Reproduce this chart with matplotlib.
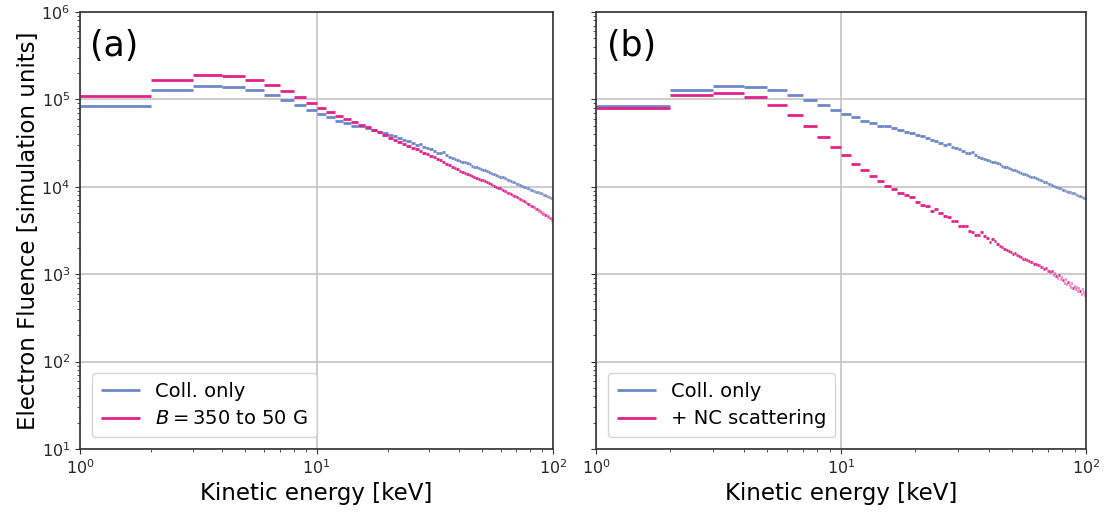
import numpy as np
import matplotlib
matplotlib.use("Agg")
import matplotlib.pyplot as plt

# energy bins, 1 keV wide, 1..100 keV
edges = np.arange(1, 101)

coll_only = [
    85000, 127000, 142000, 139000, 127000, 111000, 97600, 86300, 76300, 67500,
    62500, 56800, 53500, 50200, 49000, 46500, 45000, 42000, 40800, 38700,
    38000, 35700, 34200, 33000, 31300, 30300, 30800, 28700, 27700, 27000,
    25800, 24500, 24500, 24700, 23400, 22100, 21300, 20800, 20000, 19700,
    19400, 19000, 18700, 18000, 17300, 16900, 16700, 16200, 15900, 15600,
    15400, 15000, 14700, 14500, 14100, 13900, 13600, 13400, 13100, 12900,
    12800, 12500, 12200, 12000, 11900, 11600, 11400, 11200, 11100, 10900,
    10700, 10600, 10300, 10300, 10000, 9900, 9700, 9600, 9500, 9300,
    9300, 9000, 9000, 8800, 8700, 8700, 8500, 8400, 8400, 8200,
    8100, 8100, 7900, 7900, 7700, 7700, 7500, 7500, 7300,
]

b_field = [
    108000, 167000, 190000, 187000, 168000, 147000, 124000, 106000, 91700, 80400,
    71100, 64600, 59000, 55000, 51500, 48000, 45000, 42000, 39000, 36500,
    34500, 32500, 31000, 29500, 28000, 26800, 25600, 24600, 23600, 22700,
    21700, 20800, 20000, 19200, 18400, 17700, 17000, 16400, 15800, 15300,
    14900, 14500, 14100, 13700, 13300, 13000, 12700, 12400, 12100, 11900,
    11600, 11300, 11000, 10800, 10500, 10300, 10000, 9800, 9600, 9400,
    9200, 9000, 8800, 8600, 8400, 8300, 8100, 7900, 7800, 7600,
    7400, 7300, 7100, 7000, 6800, 6700, 6500, 6400, 6300, 6000,
    6100, 5800, 5800, 5500, 5600, 5300, 5400, 5100, 5200, 4900,
    5000, 4700, 4800, 4550, 4600, 4350, 4450, 4200, 4150,
]

nc_scatter = [
    79100, 113000, 118000, 106000, 85600, 65800, 50000, 37200, 28600, 23200,
    18200, 15500, 13300, 11600, 10200, 9420, 8480, 8040, 7680, 6730,
    6270, 6000, 5310, 5550, 5040, 4650, 4500, 4110, 4020, 3570,
    3550, 3520, 3110, 3000, 2800, 2840, 3000, 2750, 2610, 2330,
    2500, 2390, 2200, 2100, 2050, 1950, 1900, 1850, 1800, 1720,
    1750, 1650, 1600, 1560, 1500, 1480, 1440, 1420, 1380, 1380,
    1320, 1300, 1260, 1280, 1220, 1200, 1150, 1180, 1100, 1100,
    1050, 1080, 990, 1020, 960, 900, 970, 880, 920, 850,
    800, 880, 780, 820, 760, 720, 800, 700, 740, 680,
    720, 650, 700, 640, 600, 680, 620, 580, 630,
]

blue = "#6f87c9"
pink = "#e2228a"

plt.rcParams['font.family'] = ['DejaVu Sans']
plt.rcParams['axes.edgecolor'] = '#333333'
plt.rcParams['xtick.color'] = '#333333'
plt.rcParams['ytick.color'] = '#333333'
plt.rcParams['xtick.labelcolor'] = '#262626'
plt.rcParams['ytick.labelcolor'] = '#262626'

fig = plt.figure(figsize=(11.05, 5.12), dpi=100)
ax1 = fig.add_axes([80/1105, 1-449/512, 473/1105, 437/512])
ax2 = fig.add_axes([596/1105, 1-449/512, 490/1105, 437/512])

panels = [
    (ax1, b_field, r"$B = 350$ to 50 G", "(a)"),
    (ax2, nc_scatter, "+ NC scattering", "(b)"),
]

for ax, other, lab, tag in panels:
    ax.hlines(coll_only, edges[:-1], edges[1:], colors=blue, lw=2.0, label="Coll. only")
    ax.hlines(other, edges[:-1], edges[1:], colors=pink, lw=2.0, label=lab)
    ax.set_xscale("log")
    ax.set_yscale("log")
    ax.set_xlim(1, 100)
    ax.set_ylim(10, 1e6)
    ax.grid(True, which="major", color="#c4c4c4", lw=1.2)
    ax.set_axisbelow(True)
    ax.tick_params(labelsize=11.5)
    ax.set_xlabel("Kinetic energy [keV]", fontsize=16.5, labelpad=3)
    ax.text(0.022, 0.962, tag, transform=ax.transAxes, fontsize=25,
            va="top", ha="left")
    leg = ax.legend(loc="lower left", fontsize=14, frameon=True, fancybox=True,
                    handlelength=2.0, borderpad=0.45, labelspacing=0.45,
                    handletextpad=0.8, bbox_to_anchor=(0.005, 0.005))
    leg.get_frame().set_edgecolor("#cccccc")
    for spine in ax.spines.values():
        spine.set_linewidth(1.2)

ax1.set_ylabel("Electron Fluence [simulation units]", fontsize=16.5, labelpad=1)
ax2.tick_params(labelleft=False)

fig.savefig("out.png", dpi=100)
